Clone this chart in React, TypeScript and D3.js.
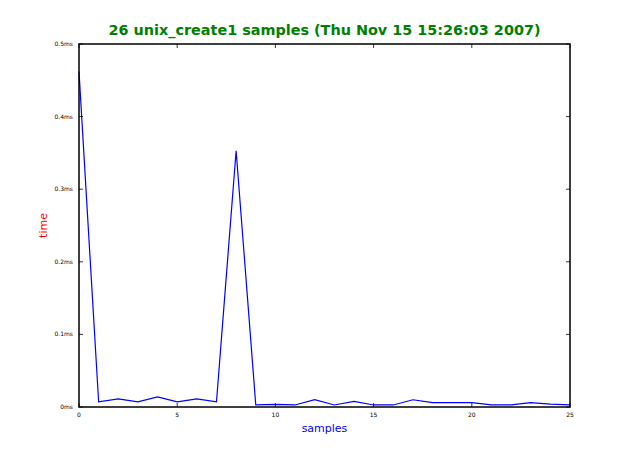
import React from "react";
import * as d3 from "d3";

const samples: number[] = d3.range(26);
const times: number[] = [
  0.462, 0.007, 0.0113, 0.007, 0.014, 0.007, 0.0113, 0.007, 0.353, 0.0028,
  0.0037, 0.0028, 0.010, 0.0028, 0.0078, 0.0028, 0.0028, 0.010, 0.006, 0.006,
  0.006, 0.0028, 0.0028, 0.006, 0.004, 0.0028,
];
const xTicks: number[] = [0, 5, 10, 15, 20, 25];
const yTicks: number[] = [0, 0.1, 0.2, 0.3, 0.4, 0.5];
const yTickLabels: string[] = ["0ms", "0.1ms", "0.2ms", "0.3ms", "0.4ms", "0.5ms"];
const title = "26 unix_create1 samples (Thu Nov 15 15:26:03 2007)";

export default function App() {
  const W = 633, H = 453;
  const L = 79, R = 570, T = 44, B = 407;
  const x = d3.scaleLinear().domain([0, 25]).range([L, R]);
  const y = d3.scaleLinear().domain([0, 0.5]).range([B, T]);
  const line = d3.line<number>().x((_, i) => x(samples[i])).y((d) => y(d));
  const font = "DejaVu Sans, sans-serif";
  return (
    <svg width={W} height={H} style={{ position: "absolute", left: 0, top: 0, background: "#fff" }}>
      <rect x={0} y={0} width={W} height={H} fill="#fff" />
      <path d={line(times) || ""} fill="none" stroke="#0000ff" strokeWidth={1.2} />
      {xTicks.map((t) => (
        <g key={"x" + t}>
          <line x1={x(t)} x2={x(t)} y1={B} y2={B - 4} stroke="#000" strokeWidth={0.8} />
          <line x1={x(t)} x2={x(t)} y1={T} y2={T + 4} stroke="#000" strokeWidth={0.8} />
          <text x={x(t)} y={B + 10} fontSize={6} fontFamily={font} textAnchor="middle" fill="#000">
            {t}
          </text>
        </g>
      ))}
      {yTicks.map((t, i) => (
        <g key={"y" + t}>
          <line x1={L} x2={L + 4} y1={y(t)} y2={y(t)} stroke="#000" strokeWidth={0.8} />
          <line x1={R} x2={R - 4} y1={y(t)} y2={y(t)} stroke="#000" strokeWidth={0.8} />
          <text x={L - 6} y={y(t) + 2} fontSize={6} fontFamily={font} textAnchor="end" fill="#000">
            {yTickLabels[i]}
          </text>
        </g>
      ))}
      <rect x={L} y={T} width={R - L} height={B - T} fill="none" stroke="#000" strokeWidth={1.5} />
      <text x={(L + R) / 2} y={35} fontSize={14.4} fontWeight="bold" fontFamily={font} textAnchor="middle" fill="#008000">
        {title}
      </text>
      <text x={(L + R) / 2} y={432} fontSize={11} fontFamily={font} textAnchor="middle" fill="#0000ff">
        samples
      </text>
      <text
        transform={`translate(47, ${(T + B) / 2}) rotate(-90)`}
        fontSize={11}
        fontFamily={font}
        textAnchor="middle"
        fill="#ff0000"
      >
        time
      </text>
    </svg>
  );
}
